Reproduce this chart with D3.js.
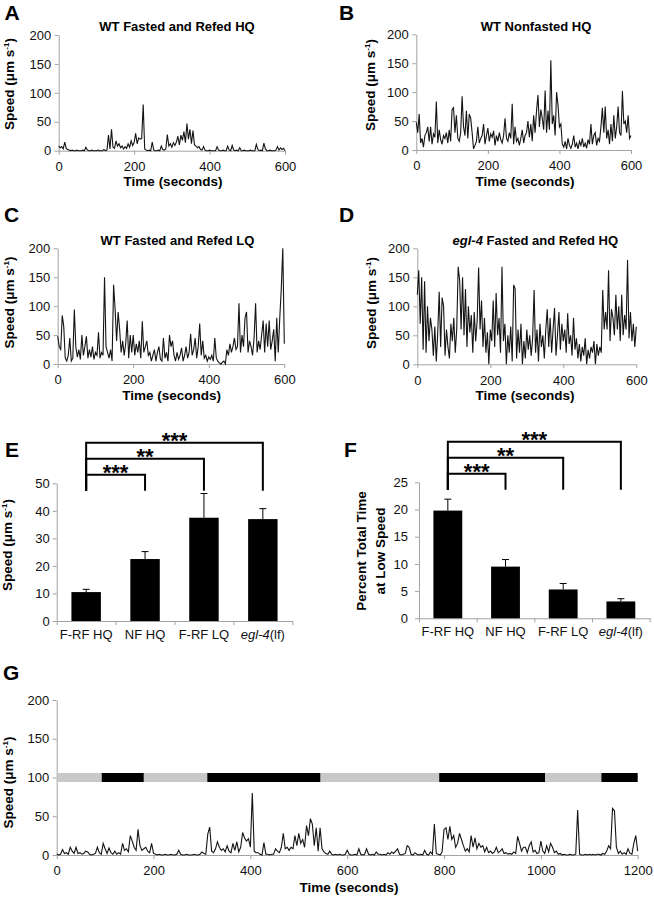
<!DOCTYPE html>
<html><head><meta charset="utf-8">
<script src="https://cdn.jsdelivr.net/npm/d3@7"></script>
<style>
body{margin:0;background:#fff;}
svg{display:block;font-family:"Liberation Sans",Arial,Helvetica,sans-serif;}
</style></head><body>
<svg id="chart" width="654" height="899"></svg>
<script>
// ---------------- DATA ----------------
// Speed traces (µm/s), sampled every 4 s
const speedA = [
8,5,7,3,15,4,2,1,0,1,
0,0,1,0,0,0,1,0,6,1,
0,0,1,0,0,0,1,0,0,0,
2,0,1,27,3,37,6,4,17,8,
12,5,8,3,7,4,12,6,17,9,
14,30,12,22,20,21,80,3,1,0,
1,0,15,1,0,0,1,0,8,2,
1,3,28,8,12,6,14,9,15,25,
10,27,18,33,14,47,20,37,12,35,
10,8,5,7,2,1,7,1,0,0,
1,0,0,0,0,7,1,0,0,1,
0,0,8,1,0,9,1,0,1,0,
5,0,0,1,0,0,0,1,0,0,
0,11,2,0,1,0,13,3,0,0,
1,0,0,0,1,7,1,5,2,4,
0];
const speedB = [
48,30,62,12,20,5,25,30,40,15,
40,10,28,22,84,12,35,18,10,25,
20,30,12,35,15,70,73,30,60,20,
15,30,93,40,25,68,20,62,55,30,
2,8,15,40,12,20,25,45,10,25,
38,15,28,22,33,8,25,15,30,18,
12,25,55,20,15,30,20,80,10,40,
15,20,8,20,35,12,25,30,50,22,
45,15,60,30,68,95,40,70,55,35,
103,30,68,35,155,45,60,25,100,78,
40,45,10,5,15,2,20,8,3,10,
25,5,12,2,15,8,20,5,12,3,
18,10,45,10,25,30,8,20,15,40,
73,30,75,20,35,10,45,15,60,20,
40,75,30,25,102,45,50,30,60,20,
25];
const speedC = [
48,30,25,84,65,10,5,15,45,5,
10,94,30,12,25,8,50,15,30,48,
10,25,12,30,8,20,15,55,10,20,
15,150,30,20,10,25,5,137,95,40,
90,60,20,40,15,35,75,10,50,20,
50,15,35,20,40,10,74,20,30,40,
15,20,5,15,25,5,20,30,8,5,
45,10,20,5,50,30,40,15,5,20,
8,15,28,5,15,30,10,20,52,15,
25,45,10,30,70,15,40,10,15,5,
12,8,15,5,45,10,5,2,0,3,
5,0,25,15,35,20,30,45,25,30,
105,20,50,30,80,90,20,40,30,15,
45,105,20,40,25,50,75,20,70,30,
75,25,40,60,5,80,20,80,130,200,
35];
const speedD = [
120,162,70,150,25,143,20,100,40,80,
60,15,65,5,55,125,30,115,100,15,
60,30,10,70,40,80,20,60,168,145,
60,150,50,130,30,100,55,85,20,90,
40,75,167,60,110,30,80,20,55,0,
60,40,110,30,123,50,80,20,168,40,
70,0,50,20,65,5,137,130,10,60,
20,70,0,40,10,60,25,50,15,45,
128,20,60,5,70,30,50,10,60,95,
30,80,20,60,97,15,50,90,25,70,
40,60,20,88,35,50,15,80,25,45,
10,35,5,30,15,45,0,25,10,30,
20,40,0,35,15,30,20,128,60,90,
60,162,40,95,80,50,120,60,100,40,
120,50,85,60,180,45,90,40,70,30,
65];
const speedG = [
1,0,1,7,2,3,1,10,5,2,
10,2,3,1,2,5,4,1,0,1,
2,10,3,1,15,8,2,9,3,1,
5,1,3,1,15,6,8,4,25,18,
10,6,33,12,6,8,10,5,3,15,
2,1,0,1,0,0,1,0,0,1,
0,0,1,6,1,0,0,1,0,0,
0,1,0,0,1,4,2,1,27,36,
5,3,8,17,10,6,8,4,12,5,
3,15,6,17,4,10,29,22,18,21,
10,80,5,3,3,1,0,16,1,1,
0,1,1,8,5,3,10,28,8,10,
6,10,8,25,12,28,15,20,10,38,
25,47,40,12,35,5,35,8,4,2,
1,5,1,0,1,0,1,0,0,1,
6,1,0,0,1,0,8,1,0,1,
8,1,0,1,0,4,1,1,0,1,
0,3,1,4,2,5,8,1,0,1,
2,12,10,1,0,3,1,0,1,0,
6,1,0,4,1,40,2,1,0,4,
33,35,20,37,20,25,10,15,28,20,
12,5,8,4,25,10,22,8,15,10,
12,4,10,3,5,2,4,10,3,5,
8,2,3,1,2,1,4,2,24,15,
5,10,10,3,12,17,4,6,2,3,
18,5,2,12,4,15,10,3,5,1,
2,0,1,0,0,1,0,0,1,58,
1,0,0,1,0,1,0,1,0,1,
1,0,2,1,5,12,8,60,57,10,
2,5,1,3,1,8,2,1,15,25,
5];

const speedTicks = [0, 50, 100, 150, 200];
const timeTicks600 = [0, 200, 400, 600];
const timeTicks1200 = [0, 200, 400, 600, 800, 1000, 1200];

// G phase bar (gray = off food / black = on food)
const phaseStart = [0, 93, 180, 311, 545, 790, 1009, 1125];
const phaseEnd   = [93, 180, 311, 545, 790, 1009, 1125, 1200];
const phaseDark  = [false, true, false, true, false, true, false, true];
const phaseLevel = 100;

// Bar charts
const categories = ["F-RF HQ", "NF HQ", "F-RF LQ", "egl-4(lf)"];
const speedMeans = [10.5, 22.5, 37.5, 37.0];
const speedErr   = [1.0, 2.7, 8.8, 3.8];
const speedBarTicks = [0, 10, 20, 30, 40, 50];
const lowPct     = [19.8, 9.5, 5.3, 3.1];
const lowPctErr  = [2.1, 1.3, 1.1, 0.5];
const lowPctTicks = [0, 5, 10, 15, 20, 25];
const sigTargets = [1, 2, 3];
const sigLabelsE = ["***", "**", "***"];
const sigLabelsF = ["***", "**", "***"];

// ---------------- DRAWING ----------------
const FONT = '"Liberation Sans", Arial, Helvetica, sans-serif';
const AXIS_COLOR = '#a3a3a3';
const TICK_FS = 13;
const svg = d3.select('#chart');
svg.append('rect').attr('width', 654).attr('height', 899).attr('fill', '#fff');

function styleAxis(a, fs) {
  a.attr('font-family', FONT);
  a.select('.domain').attr('stroke', AXIS_COLOR).attr('stroke-width', 1);
  a.selectAll('.tick line').attr('stroke', AXIS_COLOR);
  a.selectAll('.tick text').attr('fill', '#111').attr('font-size', fs).attr('font-family', FONT);
}

function letter(txt, x, y) {
  svg.append('text').attr('x', x).attr('y', y).attr('font-size', 21).attr('font-weight', 'bold')
    .attr('font-family', FONT).attr('fill', '#000').text(txt);
}

function speedTitle(x, y) {
  const t = svg.append('text').attr('transform', `translate(${x},${y}) rotate(-90)`)
    .attr('text-anchor', 'middle').attr('font-weight', 'bold').attr('font-size', 13.5)
    .attr('font-family', FONT).attr('fill', '#000');
  t.append('tspan').text('Speed (μm s');
  t.append('tspan').attr('font-size', 8).attr('dy', -5).text('-1');
  t.append('tspan').attr('dy', 5).text(')');
}

function italicPrefix(textSel, s) {
  const m = s.match(/^(egl-4)(.*)$/);
  if (m) {
    textSel.append('tspan').attr('font-style', 'italic').text(m[1]);
    textSel.append('tspan').text(m[2]);
  } else {
    textSel.text(s);
  }
}

function tracePanel(c) {
  const x = d3.scaleLinear().domain([0, c.duration]).range([c.left, c.right]);
  const y = d3.scaleLinear().domain([0, 200]).range([c.bottom, c.top]);
  svg.append('g').attr('transform', `translate(0,${c.bottom})`)
    .call(d3.axisBottom(x).tickValues(c.xTicks).tickFormat(d3.format('d')).tickSize(4).tickPadding(7).tickSizeOuter(0))
    .call(a => styleAxis(a, TICK_FS));
  svg.append('g').attr('transform', `translate(${c.left},0)`)
    .call(d3.axisLeft(y).tickValues(speedTicks).tickFormat(d3.format('d')).tickSize(4).tickPadding(3.5).tickSizeOuter(0))
    .call(a => styleAxis(a, TICK_FS));

  if (c.phases) {
    c.phases.forEach(p => {
      svg.append('line').attr('x1', x(p.s)).attr('x2', x(p.e))
        .attr('y1', y(phaseLevel)).attr('y2', y(phaseLevel))
        .attr('stroke', p.dark ? '#000' : '#c8c8c8').attr('stroke-width', 9);
    });
  }

  const n = c.data.length, step = c.duration / (n - 1);
  const line = d3.line().x((d, i) => x(i * step)).y(d => y(d));
  svg.append('path').datum(c.data).attr('d', line).attr('fill', 'none')
    .attr('stroke', '#141414').attr('stroke-width', 1.1).attr('stroke-linejoin', 'miter');

  if (c.title) {
    const t = svg.append('text').attr('x', c.titleX).attr('y', c.titleY).attr('text-anchor', 'middle')
      .attr('font-size', 13).attr('font-weight', 'bold').attr('font-family', FONT).attr('fill', '#000');
    italicPrefix(t, c.title);
  }
  letter(c.letter, c.letterX, c.letterY);
  speedTitle(c.yTitleX, c.yTitleY);
  svg.append('text').attr('x', c.xTitleX).attr('y', c.xTitleY).attr('text-anchor', 'middle')
    .attr('font-size', 13.5).attr('font-weight', 'bold').attr('font-family', FONT).attr('fill', '#000')
    .text('Time (seconds)');
}

function barPanel(c) {
  const xb = d3.scaleBand().domain(categories).range([c.left, c.right]).paddingInner(0.5).paddingOuter(0.25);
  const xEdge = d3.scaleLinear().domain([0, categories.length]).range([c.left, c.right]);
  const y = d3.scaleLinear().domain([0, c.max]).range([c.bottom, c.top]);

  svg.append('g').attr('transform', `translate(0,${c.bottom})`)
    .call(d3.axisBottom(xEdge).tickValues(d3.range(categories.length + 1)).tickFormat('').tickSize(4).tickSizeOuter(0))
    .call(a => styleAxis(a, TICK_FS));
  svg.append('g').attr('transform', `translate(${c.left},0)`)
    .call(d3.axisLeft(y).tickValues(c.ticks).tickSize(4).tickPadding(c.yPad).tickSizeOuter(0))
    .call(a => styleAxis(a, TICK_FS));

  categories.forEach(cat => {
    const t = svg.append('text').attr('x', xb(cat) + xb.bandwidth() / 2).attr('y', c.labelY)
      .attr('text-anchor', 'middle').attr('font-size', 13).attr('font-family', FONT).attr('fill', '#111');
    italicPrefix(t, cat);
  });

  svg.selectAll(null).data(c.values).enter().append('rect')
    .attr('x', (d, i) => xb(categories[i])).attr('width', xb.bandwidth())
    .attr('y', d => y(d)).attr('height', d => y(0) - y(d)).attr('fill', '#000');

  c.values.forEach((v, i) => {
    const cx = xb(categories[i]) + xb.bandwidth() / 2;
    const top = y(v + c.errors[i]);
    svg.append('line').attr('x1', cx).attr('x2', cx).attr('y1', y(v)).attr('y2', top).attr('stroke', '#000').attr('stroke-width', 1);
    svg.append('line').attr('x1', cx - 3.5).attr('x2', cx + 3.5).attr('y1', top).attr('y2', top).attr('stroke', '#000').attr('stroke-width', 1);
  });

  // significance brackets
  const levels = [-8.5, -24.5, -40.5];
  const x0 = xb(categories[0]) + xb.bandwidth() / 2;
  const yBottom = c.top + 7.5;
  sigTargets.forEach((ti, k) => {
    const x1 = xb(categories[ti]) + xb.bandwidth() / 2;
    const yl = c.top + levels[k];
    svg.append('path').attr('d', `M${x0},${yBottom}V${yl}H${x1}V${yBottom}`)
      .attr('fill', 'none').attr('stroke', '#000').attr('stroke-width', 2);
    svg.append('text').attr('x', (x0 + x1) / 2).attr('y', yl + 5.5).attr('text-anchor', 'middle')
      .attr('font-size', 22).attr('font-weight', 'bold').attr('font-family', FONT).attr('fill', '#000')
      .text(c.sig[k]);
  });

  letter(c.letter, c.letterX, c.letterY);
}

tracePanel({data: speedA, duration: 600, xTicks: timeTicks600, left: 58.7, right: 285, top: 35, bottom: 150.7,
  title: 'WT Fasted and Refed HQ', titleX: 177, titleY: 31, letter: 'A', letterX: 4.5, letterY: 20,
  yTitleX: 14, yTitleY: 84, xTitleX: 173, xTitleY: 186});
tracePanel({data: speedB, duration: 600, xTicks: timeTicks600, left: 416.3, right: 631, top: 34.3, bottom: 150,
  title: 'WT Nonfasted HQ', titleX: 536, titleY: 31, letter: 'B', letterX: 339, letterY: 20,
  yTitleX: 374.5, yTitleY: 85, xTitleX: 525, xTitleY: 186});
tracePanel({data: speedC, duration: 600, xTicks: timeTicks600, left: 57.7, right: 284.3, top: 248.3, bottom: 364,
  title: 'WT Fasted and Refed LQ', titleX: 177.5, titleY: 244.5, letter: 'C', letterX: 4, letterY: 221.5,
  yTitleX: 14, yTitleY: 302.5, xTitleX: 171.7, xTitleY: 399.5});
tracePanel({data: speedD, duration: 600, xTicks: timeTicks600, left: 417.3, right: 636.3, top: 248.3, bottom: 364.3,
  title: 'egl-4 Fasted and Refed HQ', titleX: 535.3, titleY: 244.5, letter: 'D', letterX: 339, letterY: 221.5,
  yTitleX: 376, yTitleY: 303, xTitleX: 525, xTitleY: 399.5});
tracePanel({data: speedG, duration: 1200, xTicks: timeTicks1200, left: 56.7, right: 637.7, top: 700, bottom: 855,
  title: null, letter: 'G', letterX: 3, letterY: 680,
  yTitleX: 12.5, yTitleY: 782.5, xTitleX: 349, xTitleY: 892,
  phases: phaseStart.map((s, i) => ({s: s, e: phaseEnd[i], dark: phaseDark[i]}))});

barPanel({values: speedMeans, errors: speedErr, max: 50, ticks: speedBarTicks, yPad: 3,
  left: 56.7, right: 292.3, top: 483.3, bottom: 621, labelY: 639, sig: sigLabelsE,
  letter: 'E', letterX: 5, letterY: 457});
speedTitle(12.3, 545);

barPanel({values: lowPct, errors: lowPctErr, max: 25, ticks: lowPctTicks, yPad: 7,
  left: 419, right: 649.7, top: 482.3, bottom: 618.3, labelY: 636, sig: sigLabelsF,
  letter: 'F', letterX: 344, letterY: 457});
svg.append('text').attr('transform', 'translate(366,551) rotate(-90)').attr('text-anchor', 'middle')
  .attr('font-size', 13.5).attr('font-weight', 'bold').attr('font-family', FONT).attr('fill', '#000')
  .text('Percent Total Time');
svg.append('text').attr('transform', 'translate(384.5,551) rotate(-90)').attr('text-anchor', 'middle')
  .attr('font-size', 13.5).attr('font-weight', 'bold').attr('font-family', FONT).attr('fill', '#000')
  .text('at Low Speed');
</script>
</body></html>
